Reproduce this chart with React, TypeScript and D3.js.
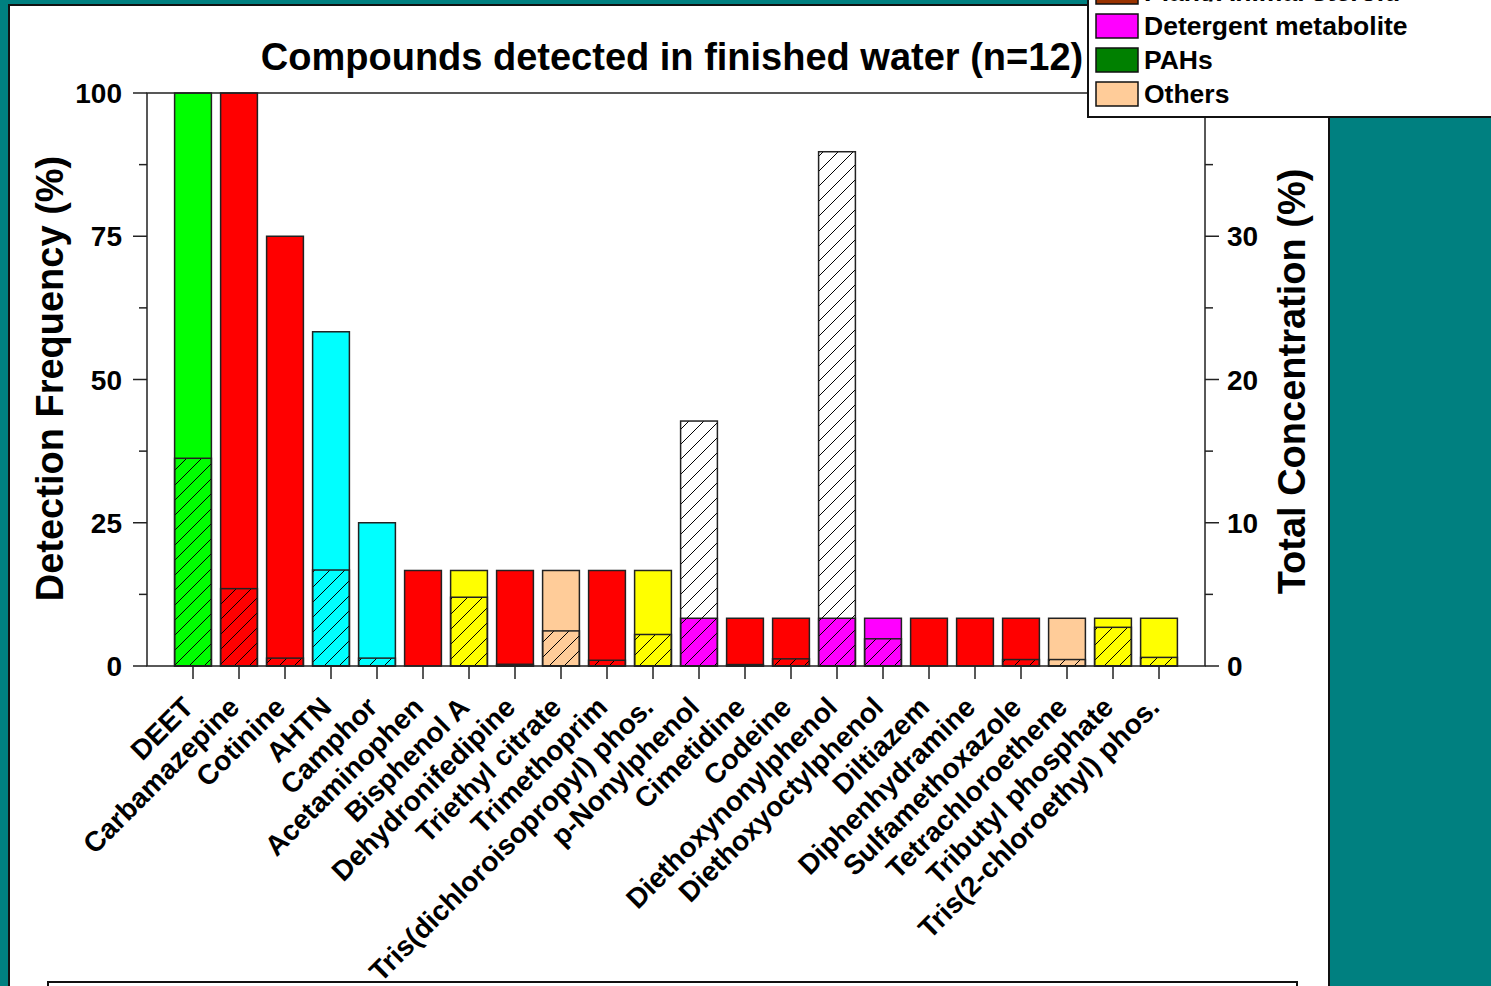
import React, { useRef, useEffect } from "react";
import * as d3 from "d3";

const COMPOUNDS = [
  "DEET", "Carbamazepine", "Cotinine", "AHTN", "Camphor", "Acetaminophen",
  "Bisphenol A", "Dehydronifedipine", "Triethyl citrate", "Trimethoprim",
  "Tris(dichloroisopropyl) phos.", "p-Nonylphenol", "Cimetidine", "Codeine",
  "Diethoxynonylphenol", "Diethoxyoctylphenol", "Diltiazem", "Diphenhydramine",
  "Sulfamethoxazole", "Tetrachloroethene", "Tributyl phosphate",
  "Tris(2-chloroethyl) phos.",
];
// detection frequency, % (left axis)
const FREQ = [
  100, 100, 75, 58.33, 25, 16.67, 16.67, 16.67, 16.67, 16.67, 16.67,
  8.33, 8.33, 8.33, 8.33, 8.33, 8.33, 8.33, 8.33, 8.33, 8.33, 8.33,
];
// total concentration, % (right axis, hatched)
const CONC = [
  14.5, 5.4, 0.55, 6.7, 0.55, 0, 4.8, 0.12, 2.45, 0.4, 2.2,
  17.1, 0.1, 0.5, 35.9, 1.9, 0, 0, 0.45, 0.45, 2.7, 0.6,
];
const GROUP = [
  "repellent", "pharma", "pharma", "fragrance", "fragrance", "pharma",
  "plastic", "pharma", "others", "pharma", "flame", "detergent", "pharma",
  "pharma", "detergent", "detergent", "pharma", "pharma", "pharma", "others",
  "flame", "flame",
];
const GROUP_COLOR: Record<string, string> = {
  repellent: "#00ff00", pharma: "#ff0000", fragrance: "#00ffff",
  plastic: "#ffff00", flame: "#ffff00", detergent: "#ff00ff", others: "#ffcc99",
};
const LEGEND = [
  { label: "Plant/Animal steroid", color: "#993300" },
  { label: "Detergent metabolite", color: "#ff00ff" },
  { label: "PAHs", color: "#008000" },
  { label: "Others", color: "#ffcc99" },
];
const LEFT_TICKS = [0, 25, 50, 75, 100];
const RIGHT_TICKS = [0, 10, 20, 30, 40];

const W = 1491, H = 986;
const FONT = "'Liberation Sans', Arial, sans-serif";

export default function App() {
  const svgRef = useRef<SVGSVGElement>(null);

  useEffect(() => {
    const svg = d3.select(svgRef.current);
    svg.selectAll("*").remove();

    const left = 147, right = 1205, top = 93, bottom = 666;

    const x = d3.scaleBand().domain(COMPOUNDS).range([left, right])
      .paddingInner(0.2).paddingOuter(0.6);
    const yL = d3.scaleLinear().domain([0, 100]).range([bottom, top]);
    const yR = d3.scaleLinear().domain([0, 40]).range([bottom, top]);

    const defs = svg.append("defs");
    defs.append("pattern")
      .attr("id", "hatch")
      .attr("patternUnits", "userSpaceOnUse")
      .attr("width", 15).attr("height", 15)
      .append("path")
      .attr("d", "M-2,2 L2,-2 M0,15 L15,0 M13,17 L17,13")
      .attr("stroke", "#000").attr("stroke-width", 1);

    // background
    svg.append("rect").attr("width", W).attr("height", H).attr("fill", "#008080");
    svg.append("rect")
      .attr("x", 9).attr("y", 5).attr("width", 1320).attr("height", 1000)
      .attr("fill", "#fff").attr("stroke", "#111").attr("stroke-width", 2);

    // box below the chart
    svg.append("rect")
      .attr("x", 48).attr("y", 982).attr("width", 1249).attr("height", 30)
      .attr("fill", "#fff").attr("stroke", "#111").attr("stroke-width", 2);

    // title
    svg.append("text")
      .attr("x", 672).attr("y", 70)
      .attr("text-anchor", "middle")
      .style("font-family", FONT).style("font-weight", 700).style("font-size", "38px")
      .text("Compounds detected in finished water (n=12)");

    const bars = svg.append("g");
    COMPOUNDS.forEach((name, i) => {
      const bx = x(name)!;
      bars.append("rect")
        .attr("x", bx).attr("y", yL(FREQ[i]))
        .attr("width", x.bandwidth()).attr("height", bottom - yL(FREQ[i]))
        .attr("fill", GROUP_COLOR[GROUP[i]])
        .attr("stroke", "#222").attr("stroke-width", 1.5);
      if (CONC[i] > 0) {
        bars.append("rect")
          .attr("x", bx).attr("y", yR(CONC[i]))
          .attr("width", x.bandwidth()).attr("height", bottom - yR(CONC[i]))
          .attr("fill", "url(#hatch)")
          .attr("stroke", "#222").attr("stroke-width", 1.5);
      }
    });

    // frame
    svg.append("rect")
      .attr("x", left).attr("y", top)
      .attr("width", right - left).attr("height", bottom - top)
      .attr("fill", "none").attr("stroke", "#222").attr("stroke-width", 1.5);

    const ax = svg.append("g").attr("stroke", "#222").attr("stroke-width", 1.5);
    LEFT_TICKS.forEach(t => {
      ax.append("line").attr("x1", left - 14).attr("x2", left).attr("y1", yL(t)).attr("y2", yL(t));
    });
    d3.range(12.5, 100, 25).forEach(t => {
      ax.append("line").attr("x1", left - 8).attr("x2", left).attr("y1", yL(t)).attr("y2", yL(t));
    });
    RIGHT_TICKS.forEach(t => {
      ax.append("line").attr("x1", right).attr("x2", right + 14).attr("y1", yR(t)).attr("y2", yR(t));
    });
    d3.range(5, 40, 10).forEach(t => {
      ax.append("line").attr("x1", right).attr("x2", right + 8).attr("y1", yR(t)).attr("y2", yR(t));
    });
    COMPOUNDS.forEach(name => {
      const cx = x(name)! + x.bandwidth() / 2;
      ax.append("line").attr("x1", cx).attr("x2", cx).attr("y1", bottom).attr("y2", bottom + 13);
    });

    const txt = svg.append("g")
      .style("font-family", FONT).style("font-weight", 700).attr("fill", "#000");

    LEFT_TICKS.forEach(t => {
      txt.append("text")
        .attr("x", left - 25).attr("y", yL(t)).attr("dy", "0.36em")
        .attr("text-anchor", "end").style("font-size", "28px")
        .text(t);
    });
    RIGHT_TICKS.forEach(t => {
      txt.append("text")
        .attr("x", right + 22).attr("y", yR(t)).attr("dy", "0.36em")
        .attr("text-anchor", "start").style("font-size", "28px")
        .text(t);
    });

    COMPOUNDS.forEach(name => {
      const cx = x(name)! + x.bandwidth() / 2;
      txt.append("text")
        .attr("transform", `translate(${cx + 2},${bottom + 43}) rotate(-45)`)
        .attr("text-anchor", "end").style("font-size", "28px")
        .text(name);
    });

    txt.append("text")
      .attr("transform", `translate(63,${(top + bottom) / 2 - 1}) rotate(-90)`)
      .attr("text-anchor", "middle").style("font-size", "38px")
      .text("Detection Frequency (%)");
    txt.append("text")
      .attr("transform", `translate(1305,${(top + bottom) / 2 + 2}) rotate(-90)`)
      .attr("text-anchor", "middle").style("font-size", "38px")
      .text("Total Concentration (%)");

    // legend
    const lg = svg.append("g");
    lg.append("rect")
      .attr("x", 1088).attr("y", -10).attr("width", 420).attr("height", 127)
      .attr("fill", "#fff").attr("stroke", "#111").attr("stroke-width", 2);
    LEGEND.forEach((d, i) => {
      const y0 = -20 + i * 34;
      lg.append("rect")
        .attr("x", 1096).attr("y", y0).attr("width", 42).attr("height", 24)
        .attr("fill", d.color).attr("stroke", "#111").attr("stroke-width", 1.5);
      lg.append("text")
        .attr("x", 1144).attr("y", y0 + 21)
        .style("font-family", FONT).style("font-weight", 700).style("font-size", "26.5px")
        .text(d.label);
    });
  }, []);

  return (
    <svg
      ref={svgRef}
      width={W}
      height={H}
      style={{ position: "absolute", left: 0, top: 0, display: "block" }}
    />
  );
}
